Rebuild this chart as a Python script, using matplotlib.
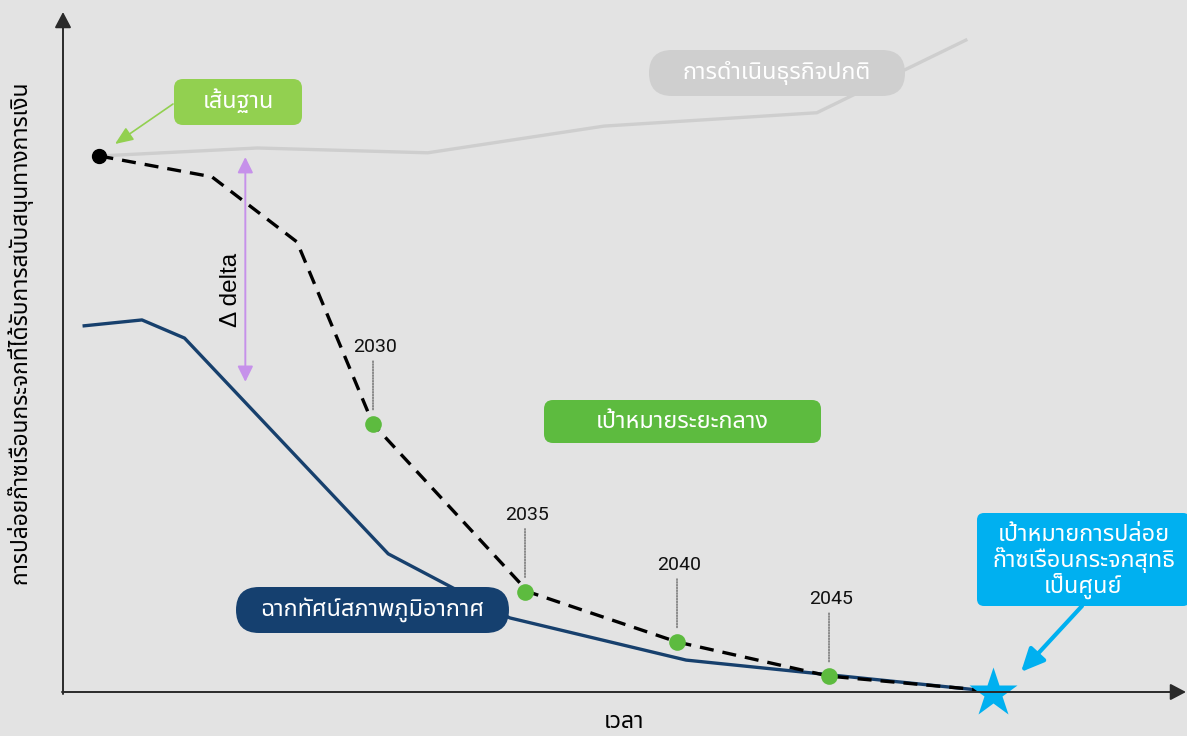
import matplotlib
matplotlib.use("Agg")
import matplotlib.pyplot as plt
import matplotlib.transforms as mtransforms
from matplotlib.patches import FancyBboxPatch, FancyArrowPatch

THAI = ['Noto Sans Thai', 'DejaVu Sans']
NUM = ['Roboto', 'DejaVu Sans']
LAT = ['Liberation Sans', 'DejaVu Sans']

# ---------------- data ----------------
bau_years = [2021.0, 2026.2, 2031.8, 2037.6, 2044.6, 2049.5]
bau_values = [100.0, 101.5, 100.6, 105.6, 108.1, 121.7]

target_years = [2021.0, 2024.7, 2027.5, 2030.0, 2035.1, 2040.0, 2045.0, 2050.0]
target_values = [100.0, 96.1, 83.9, 49.8, 18.4, 9.0, 2.6, 0.0]

climate_years = [2020.5, 2022.4, 2023.8, 2030.5, 2034.5, 2040.3, 2049.9]
climate_values = [68.2, 69.3, 65.9, 25.5, 13.5, 5.6, 0.0]

milestone_years = [2030, 2035, 2040, 2045]
milestone_values = [49.8, 18.4, 9.0, 2.6]
milestone_labels = ['2030', '2035', '2040', '2045']

baseline_year, baseline_value = 2021.0, 100.0
netzero_year, netzero_value = 2050.4, -0.5
delta_year = 2025.8
delta_range = [99.8, 57.7]

y_label = 'การปล่อยก๊าซเรือนกระจกที่ได้รับการสนับสนุนทางการเงิน'
x_label = 'เวลา'
lbl_baseline = 'เส้นฐาน'
lbl_bau = 'การดำเนินธุรกิจปกติ'
lbl_interim = 'เป้าหมายระยะกลาง'
lbl_climate = 'ฉากทัศน์สภาพภูมิอากาศ'
lbl_netzero = 'เป้าหมายการปล่อย\nก๊าซเรือนกระจกสุทธิ\nเป็นศูนย์'
lbl_delta = 'Δ delta'

# ---------------- figure ----------------
W, H, DPI = 1187, 736, 100
BG = '#e3e3e3'
fig = plt.figure(figsize=(W / DPI, H / DPI), dpi=DPI, facecolor=BG)
ax = fig.add_axes([0, 0, 1, 1])
ax.set_facecolor(BG)
ax.set_xlim(2017.730, 2056.776)
ax.set_ylim(-8.614, 129.213)
ax.axis('off')

# pixel transform (origin top-left)
pix = (mtransforms.Affine2D().scale(1, -1).translate(0, H)
       + mtransforms.Affine2D().scale(1 / DPI) + fig.dpi_scale_trans)

# axes arrows
for a, b in [((63, 694), (63, 12)), ((62, 692), (1186, 692))]:
    fig.patches.append(FancyArrowPatch(a, b, transform=pix,
                       arrowstyle='-|>,head_length=0.95,head_width=0.5',
                       mutation_scale=10, color='#2a2a2a', lw=1.4,
                       shrinkA=0, shrinkB=0, zorder=1))

# series lines
ax.plot(bau_years, bau_values, color='#cecece', lw=2.4, zorder=2)
ax.plot(climate_years, climate_values, color='#17406d', lw=2.4, zorder=3)
ax.plot(target_years, target_values, color='black', lw=2.4,
        dashes=(4.2, 2.7), zorder=4)

# milestone dots + labels
ax.plot(milestone_years, milestone_values, 'o', color='#5dbb3f', ms=12,
        mec='none', zorder=6)
for yr, v, lab in zip(milestone_years, milestone_values, milestone_labels):
    ax.annotate('', xy=(yr, v), xytext=(0, 63), textcoords='offset pixels',
                arrowprops=dict(arrowstyle='-', ls=(0, (1, 1)), color='#666666',
                                lw=1.0, shrinkA=0, shrinkB=9.5), zorder=5)
    ax.annotate(lab, xy=(yr, v), xytext=(2, 77), textcoords='offset pixels',
                ha='center', va='center', fontsize=14, family=NUM,
                color='#111111', zorder=6)

# baseline dot
ax.plot([baseline_year], [baseline_value], 'o', color='black', ms=10, zorder=7)

# net zero star
ax.plot([netzero_year], [netzero_value], marker='*', color='#00b0f0', ms=37,
        mec='none', zorder=8)

# delta arrow
ax.annotate('', xy=(delta_year, delta_range[1]), xytext=(delta_year, delta_range[0]),
            arrowprops=dict(arrowstyle='<|-|>,head_length=0.95,head_width=0.47',
                            mutation_scale=10, color='#c691ea', lw=1.4,
                            shrinkA=0, shrinkB=0), zorder=5)
fig.text(231, 290, lbl_delta, transform=pix, rotation=90, ha='center',
         va='center', fontsize=17.5, family=LAT, color='black')


def box(x0, y0, x1, y1, color, r, text, fs=16.9, ty=None, ls=1.2):
    p = FancyBboxPatch((x0, y0), x1 - x0, y1 - y0,
                       boxstyle=f'round,pad=0,rounding_size={r}',
                       transform=pix, facecolor=color, edgecolor='none', zorder=10)
    fig.patches.append(p)
    cy = (y0 + y1) / 2 if ty is None else ty
    fig.text((x0 + x1) / 2, cy, text, transform=pix, ha='center', va='center',
             fontsize=fs, family=THAI, color='white', zorder=11,
             linespacing=ls, multialignment='center')


box(174, 79, 302, 125, '#92d050', 9, lbl_baseline)
box(649, 50, 905, 96, '#cfcfcf', 23, lbl_bau)
box(544, 400, 821, 443, '#5dbb3f', 9, lbl_interim)
box(236, 587, 509, 633, '#15406f', 23, lbl_climate)
box(977, 513, 1190, 606, '#00b0f0', 7, lbl_netzero, ty=561, ls=0.98)

# callout arrows
fig.patches.append(FancyArrowPatch((173, 104), (115, 144), transform=pix,
                   arrowstyle='-|>,head_length=1.1,head_width=0.45',
                   mutation_scale=10, color='#92d050', lw=1.2,
                   shrinkA=0, shrinkB=0, zorder=9))
fig.patches.append(FancyArrowPatch((1082, 606), (1021, 672), transform=pix,
                   arrowstyle='-|>,head_length=1.4,head_width=0.65',
                   mutation_scale=10, color='#00b0f0', lw=3.0,
                   shrinkA=0, shrinkB=0, zorder=9))

# axis titles
fig.text(20, 332, y_label, transform=pix, rotation=90, ha='center', va='center',
         fontsize=16.4, family=THAI, color='black')
fig.text(624, 722, x_label, transform=pix, ha='center', va='center',
         fontsize=16.5, family=THAI, color='black')

fig.savefig('out.png', dpi=DPI, facecolor=BG)
